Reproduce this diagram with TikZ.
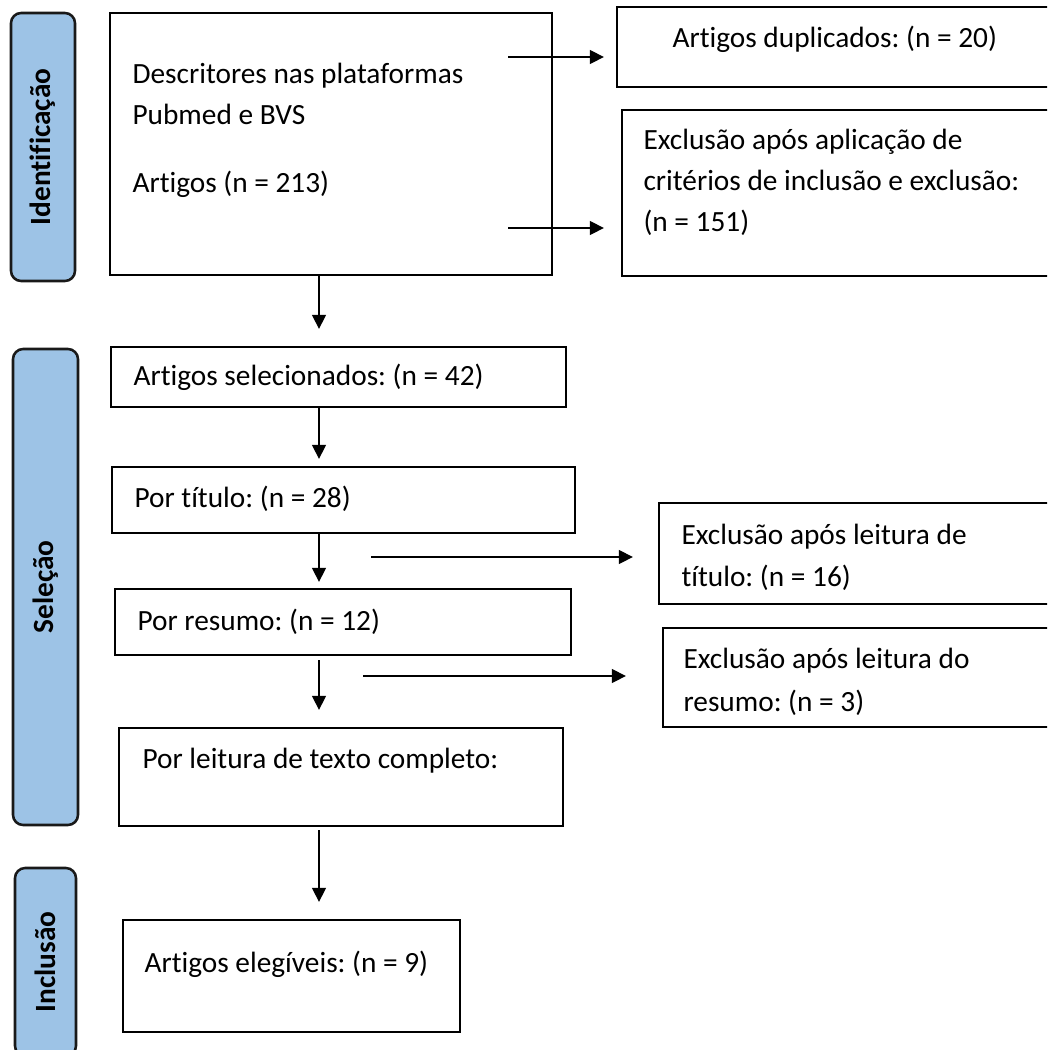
\documentclass[tikz,border=0pt]{standalone}
\usepackage{fontspec}
\setmainfont{Carlito}[Ligatures=NoCommon]
\usetikzlibrary{arrows.meta,positioning}
\definecolor{phaseblue}{HTML}{9DC3E6}
\frenchspacing

\begin{document}
\begin{tikzpicture}[x=0.375pt, y=-0.375pt,
        font=\fontsize{11}{13}\selectfont,
        >={Triangle[length=5.25pt,width=5.25pt]},
        boxsize/.style 2 args={minimum width=#1*0.375pt, minimum height=#2*0.375pt},
        box/.style={draw, line width=0.86pt, inner sep=0pt},
        phase/.style={draw=black!90, line width=0.95pt, fill=phaseblue, rounded corners=3.8pt,
            rotate=90, inner sep=0pt, font=\fontsize{11}{13}\selectfont\bfseries},
        lbl/.style={anchor=base west, inner sep=0pt},
        arr/.style={->, line width=0.5pt}]
        \clip (0,0) rectangle (1047,1050);

        % fases
        \node[phase, boxsize={268}{64}] (ident) at (43,147) {Identificação};
        \node[phase, boxsize={476}{65}] (selec) at (45.5,587) {Seleção};
        \node[phase, boxsize={188}{61}] (inclu) at (45.5,962) {Inclusão};

        % caixas
        \node[box, boxsize={442}{262}] (busca) at (331,144) {};
        \node[box, boxsize={443}{80}] (dupl) at (838.5,47) {};
        \node[box, boxsize={438}{166}] (crit) at (841,193) {};
        \node[box, boxsize={455}{60}] (selecao) at (338.5,377) {};
        \node[box, boxsize={463}{66}] (titulo) at (343.5,500) {};
        \node[box, boxsize={401}{101}] (exctit) at (859.5,553.5) {};
        \node[box, boxsize={456}{66}] (resumo) at (343,622) {};
        \node[box, boxsize={397}{99}] (excres) at (861.5,677.5) {};
        \node[box, boxsize={444}{98}] (leitura) at (341,777) {};
        \node[box, boxsize={337}{112}] (elegiveis) at (291.5,976) {};

        \node[lbl] (busca1) at (132,83) {Descritores nas plataformas};
        \node[lbl] (busca2) at (132,124) {Pubmed e BVS};
        \node[lbl] (busca3) at (132,192) {Artigos (n = 213)};
        \node[lbl] (dupl1) at (672,47) {Artigos duplicados: (n = 20)};
        \node[lbl] (crit1) at (643,149) {Exclusão após aplicação de};
        \node[lbl] (crit2) at (643,190) {critérios de inclusão e exclusão:};
        \node[lbl] (crit3) at (643,231) {(n = 151)};
        \node[lbl] (selecao1) at (133,385) {Artigos selecionados: (n = 42)};
        \node[lbl] (titulo1) at (134,507) {Por título: (n = 28)};
        \node[lbl] (exctit1) at (681,544) {Exclusão após leitura de};
        \node[lbl] (exctit2) at (681,586) {título: (n = 16)};
        \node[lbl] (resumo1) at (137,630) {Por resumo: (n = 12)};
        \node[lbl] (excres1) at (683,668) {Exclusão após leitura do};
        \node[lbl] (excres2) at (683,711) {resumo: (n = 3)};
        \node[lbl] (leitura1) at (142,768) {Por leitura de texto completo:};
        \node[lbl] (elegiveis1) at (144,972) {Artigos elegíveis: (n = 9)};

        % setas
        \coordinate (col) at (319,0);
        \coordinate (s1) at (508,57);
        \coordinate (s2) at (508,228);
        \coordinate (s3) at (371,557);
        \coordinate (s4) at (363,676);

        \draw[arr, shorten >=12*0.375pt] (s1) -- (s1 -| dupl.west);
        \draw[arr, shorten >=17*0.375pt] (s2) -- (s2 -| crit.west);
        \draw[arr, shorten >=25*0.375pt] (s3) -- (s3 -| exctit.west);
        \draw[arr, shorten >=36*0.375pt] (s4) -- (s4 -| excres.west);

        \draw[arr, shorten >=17*0.375pt] (busca.south -| col) -- (selecao.north -| col);
        \draw[arr, shorten >=7*0.375pt] (selecao.south -| col) -- (titulo.north -| col);
        \draw[arr, shorten >=6*0.375pt] (titulo.south -| col) -- (resumo.north -| col);
        \draw[arr, shorten <=4*0.375pt, shorten >=17*0.375pt] (resumo.south -| col) -- (leitura.north -| col);
        \draw[arr, shorten <=3*0.375pt, shorten >=17*0.375pt] (leitura.south -| col) -- (elegiveis.north -| col);
\end{tikzpicture}
\end{document}
